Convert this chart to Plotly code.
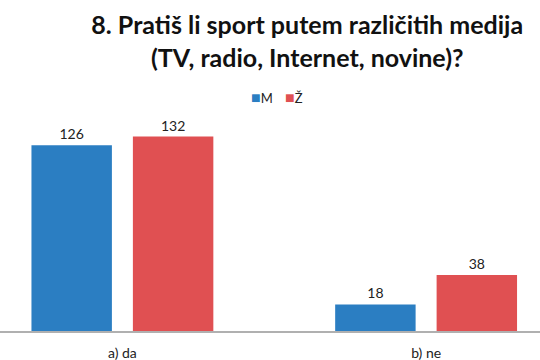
import plotly.graph_objects as go

categories = ["a) da", "b) ne"]
series_names = ["M", "Ž"]
values_m = [126, 18]
values_z = [132, 38]
title_text = "<b>8. Pratiš li sport putem različitih medija<br>(TV, radio, Internet, novine)?</b>"

colors = ["#2B7EC2", "#E05052"]
font_family = "Lato, 'Open Sans', sans-serif"

fig = go.Figure()
for name, vals, col in zip(series_names, [values_m, values_z], colors):
    fig.add_trace(go.Bar(
        name=name, x=categories, y=vals, marker_color=col,
        marker_line_width=0,
        text=[str(v) for v in vals], textposition="outside",
        textfont=dict(size=14, color="#222222", family=font_family),
        cliponaxis=False, showlegend=False,
    ))

# legend built as annotations
legend_x = [0.462, 0.524]
for name, col, lx in zip(series_names, colors, legend_x):
    fig.add_annotation(
        xref="paper", yref="paper", x=lx, y=1.059, xanchor="left", yanchor="middle",
        text=f"<span style='color:{col};font-size:16px'>■</span>{name}", showarrow=False,
        font=dict(size=13, color="#222222", family=font_family),
    )

fig.update_layout(
    width=540, height=360,
    margin=dict(l=0, r=0, t=110, b=29),
    paper_bgcolor="white", plot_bgcolor="white",
    barmode="group", bargap=0.332, bargroupgap=0.207,
    title=dict(text=title_text, x=0.569, xanchor="center", xref="paper",
               y=1 - 34 / 360, yref="container", yanchor="middle",
               font=dict(size=25, color="#111111", family=font_family)),
    xaxis=dict(range=[-0.403, 1.375], showline=True, linecolor="#B0B0B0", linewidth=2,
               ticks="", showgrid=False, ticklabelstandoff=8,
               tickfont=dict(size=14, color="#222222", family=font_family),
               fixedrange=True),
    yaxis=dict(range=[0, 150.0], visible=False, showgrid=False, zeroline=False),
)

fig.write_html("out.html")
